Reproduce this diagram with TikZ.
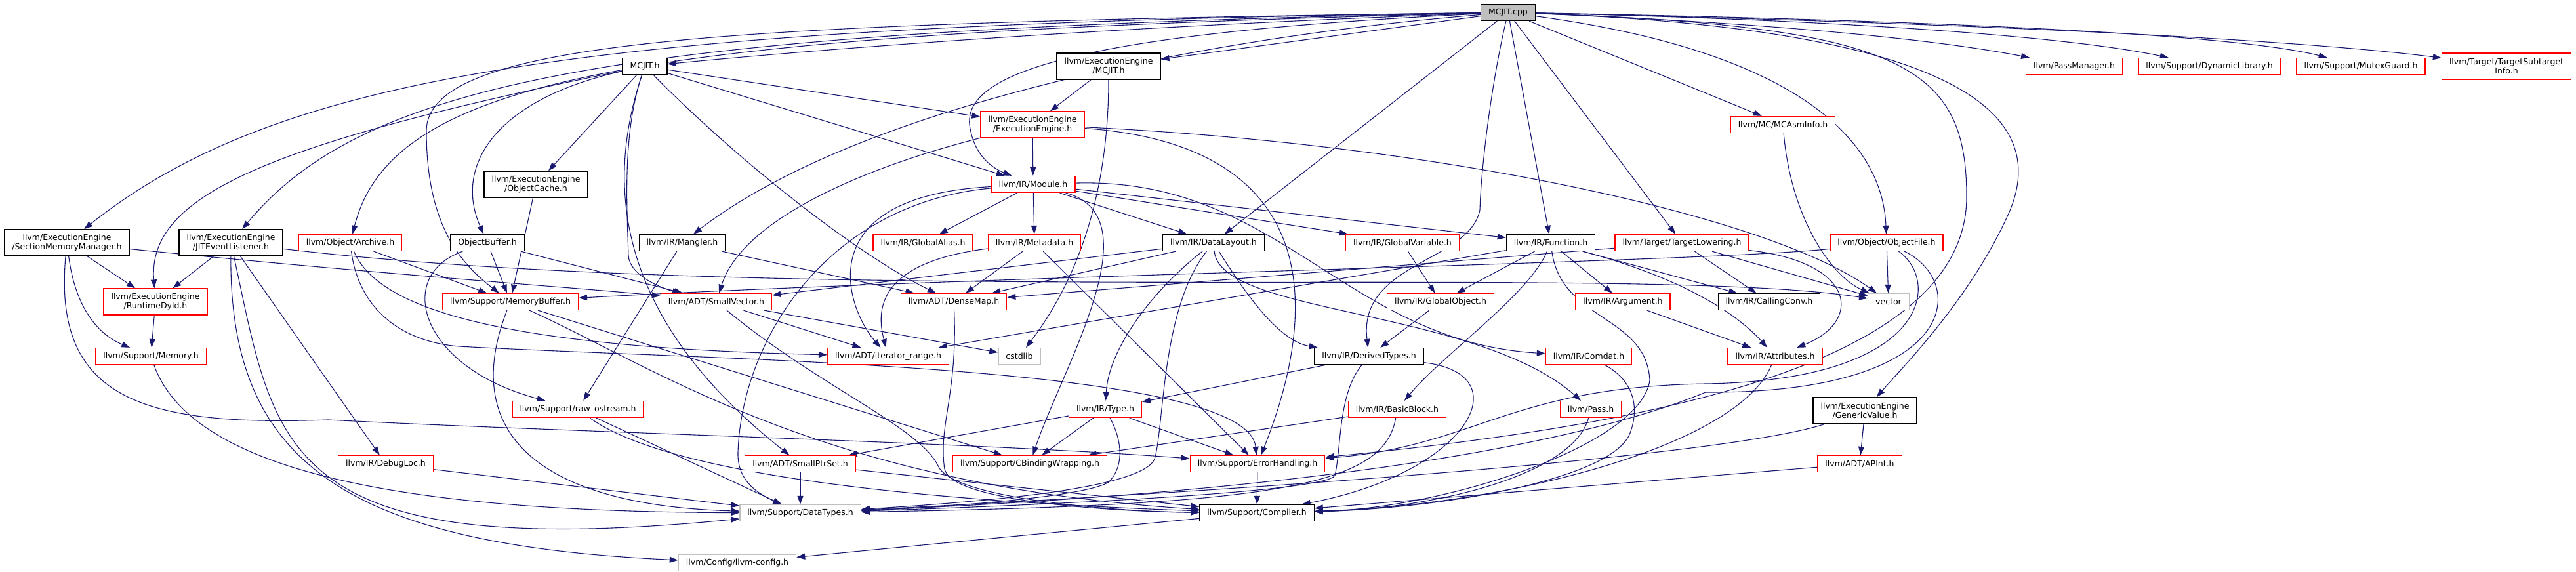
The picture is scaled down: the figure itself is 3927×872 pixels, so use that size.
\documentclass[tikz,border=0pt]{standalone}
\usepackage{fontspec}
\newfontfamily\doxfont{DejaVu Sans}
\usetikzlibrary{arrows.meta}
\definecolor{edgeblue}{HTML}{191970}
\definecolor{boxgray}{HTML}{BFBFBF}
\pgfdeclarelayer{edges}
\pgfsetlayers{edges,main}

\begin{document}
\begin{tikzpicture}[x=1pt, y=-1pt,
  file/.style={draw, fill=white, line width=1.3pt, inner xsep=11.5pt, inner ysep=2pt,
               minimum height=25pt, align=center, font=\doxfont\fontsize{12.5pt}{14pt}\selectfont},
  full/.style={file, draw=black},
  trunc/.style={file, draw=red},
  ext/.style={file, draw=boxgray},
  root/.style={file, draw=black, fill=boxgray},
  two/.style={minimum height=40pt},
  inc/.style={->, draw=edgeblue, line width=1.1pt},
  >={Triangle[length=13pt, width=9pt]}]
  \useasboundingbox (0,0) rectangle (3927,872);

  % top rows
  \node[root] (cpp) at (2299,19) {MCJIT.cpp};
  \node[full] (mcjith) at (983,101) {MCJIT.h};
  \node[full, two] (eemcjit) at (1690,101) {llvm/ExecutionEngine\\/MCJIT.h};
  \node[trunc] (passmgr) at (3162,101) {llvm/PassManager.h};
  \node[trunc] (dynlib) at (3368,101) {llvm/Support/DynamicLibrary.h};
  \node[trunc] (mutex) at (3599,101) {llvm/Support/MutexGuard.h};
  \node[trunc, two] (subtarget) at (3821,101) {llvm/Target/TargetSubtarget\\Info.h};
  \node[trunc, two] (ee) at (1574,190) {llvm/ExecutionEngine\\/ExecutionEngine.h};
  \node[trunc] (mcasm) at (2718,190) {llvm/MC/MCAsmInfo.h};
  \node[full, two] (objcache) at (817,281) {llvm/ExecutionEngine\\/ObjectCache.h};
  \node[trunc] (module) at (1575,281) {llvm/IR/Module.h};

  % middle rows
  \node[full, two] (secmem) at (102,370) {llvm/ExecutionEngine\\/SectionMemoryManager.h};
  \node[full, two] (jitevent) at (352,370) {llvm/ExecutionEngine\\/JITEventListener.h};
  \node[trunc] (archive) at (534,370) {llvm/Object/Archive.h};
  \node[full] (objbuf) at (743,370) {ObjectBuffer.h};
  \node[full] (mangler) at (1040,370) {llvm/IR/Mangler.h};
  \node[trunc] (galias) at (1407,370) {llvm/IR/GlobalAlias.h};
  \node[trunc] (metadata) at (1577,370) {llvm/IR/Metadata.h};
  \node[full] (datalayout) at (1850,370) {llvm/IR/DataLayout.h};
  \node[trunc] (gvar) at (2138,370) {llvm/IR/GlobalVariable.h};
  \node[full] (function) at (2364,370) {llvm/IR/Function.h};
  \node[trunc] (tlowering) at (2564,370) {llvm/Target/TargetLowering.h};
  \node[trunc] (objfile) at (2876,370) {llvm/Object/ObjectFile.h};

  \node[trunc, two] (rtdyld) at (237,460) {llvm/ExecutionEngine\\/RuntimeDyld.h};
  \node[trunc] (membuf) at (778,460) {llvm/Support/MemoryBuffer.h};
  \node[trunc] (smallvec) at (1092,460) {llvm/ADT/SmallVector.h};
  \node[trunc] (densemap) at (1454,460) {llvm/ADT/DenseMap.h};
  \node[trunc] (gobject) at (2196,460) {llvm/IR/GlobalObject.h};
  \node[trunc] (argument) at (2474,460) {llvm/IR/Argument.h};
  \node[full] (callconv) at (2697,460) {llvm/IR/CallingConv.h};
  \node[ext] (vector) at (2879,460) {vector};

  \node[trunc] (memory) at (230,543) {llvm/Support/Memory.h};
  \node[trunc] (itrange) at (1354,543) {llvm/ADT/iterator\_range.h};
  \node[ext] (cstdlib) at (1554,543) {cstdlib};
  \node[full] (derived) at (2087,543) {llvm/IR/DerivedTypes.h};
  \node[trunc] (comdat) at (2422,543) {llvm/IR/Comdat.h};
  \node[trunc] (attributes) at (2706,543) {llvm/IR/Attributes.h};

  % bottom rows
  \node[trunc] (rawos) at (881,624) {llvm/Support/raw\_ostream.h};
  \node[trunc] (type) at (1685,624) {llvm/IR/Type.h};
  \node[trunc] (basicblock) at (2130,624) {llvm/IR/BasicBlock.h};
  \node[trunc] (pass) at (2425,624) {llvm/Pass.h};
  \node[full, two] (genval) at (2843,626) {llvm/ExecutionEngine\\/GenericValue.h};
  \node[trunc] (debugloc) at (588,707) {llvm/IR/DebugLoc.h};
  \node[trunc] (smallptr) at (1220,707) {llvm/ADT/SmallPtrSet.h};
  \node[trunc] (cbinding) at (1570,707) {llvm/Support/CBindingWrapping.h};
  \node[trunc] (errhand) at (1917,707) {llvm/Support/ErrorHandling.h};
  \node[trunc] (apint) at (2835,707) {llvm/ADT/APInt.h};
  \node[ext] (datatypes) at (1220,782) {llvm/Support/DataTypes.h};
  \node[full] (compiler) at (1916,782) {llvm/Support/Compiler.h};
  \node[ext] (config) at (1124,858) {llvm/Config/llvm-config.h};

  \begin{pgfonlayer}{edges}
  % MCJIT.cpp
  \draw[inc] (cpp) .. controls (900,38) and (430,110) .. (secmem);
  \draw[inc] (cpp) .. controls (950,45) and (560,120) .. (jitevent);
  \draw[inc] (cpp) .. controls (1000,52) and (600,110) .. (archive);
  \draw[inc] (cpp) .. controls (1100,35) and (650,60) .. (650,200) .. controls (650,340) and (700,400) .. (membuf);
  \draw[inc] (cpp) .. controls (1700,40) and (1250,75) .. (mcjith);
  \draw[inc] (cpp) -- (eemcjit);
  \draw[inc] (cpp) .. controls (1650,50) and (1470,110) .. (1478,190) .. controls (1484,235) and (1510,255) .. (module);
  \draw[inc] (cpp) .. controls (1800,60) and (1300,170) .. (mangler);
  \draw[inc] (cpp) -- (datalayout);
  \draw[inc] (cpp) .. controls (2275,120) and (2258,250) .. (2256,320) .. controls (2240,400) and (2070,400) .. (derived);
  \draw[inc] (cpp) -- (function);
  \draw[inc] (cpp) -- (tlowering);
  \draw[inc] (cpp) -- (mcasm);
  \draw[inc] (cpp) .. controls (2750,80) and (2870,220) .. (objfile);
  \draw[inc] (cpp) .. controls (3000,45) and (3130,180) .. (3060,330) .. controls (3000,460) and (2900,560) .. (genval);
  \draw[inc] (cpp) .. controls (2900,40) and (2998,100) .. (2998,300) .. controls (2998,560) and (2500,650) .. (errhand);
  \draw[inc] (cpp) .. controls (2700,35) and (2950,60) .. (passmgr);
  \draw[inc] (cpp) .. controls (2800,30) and (3150,55) .. (dynlib);
  \draw[inc] (cpp) .. controls (2900,30) and (3400,50) .. (mutex);
  \draw[inc] (cpp) .. controls (3000,35) and (3500,60) .. (subtarget);
  % MCJIT.h
  \draw[inc] (mcjith) .. controls (400,220) and (225,300) .. (rtdyld);
  \draw[inc] (mcjith) .. controls (760,150) and (690,250) .. (objbuf);
  \draw[inc] (mcjith) -- (objcache);
  \draw[inc] (mcjith) .. controls (950,200) and (955,300) .. (958,390) .. controls (960,420) and (1010,440) .. (smallvec);
  \draw[inc] (mcjith) .. controls (930,260) and (920,470) .. (smallptr);
  \draw[inc] (mcjith) .. controls (1130,250) and (1310,390) .. (densemap);
  \draw[inc] (mcjith) -- (ee);
  \draw[inc] (mcjith) -- (module);
  \draw[inc] (eemcjit) -- (ee);
  \draw[inc] (eemcjit) .. controls (1690,300) and (1640,430) .. (cstdlib);
  % ExecutionEngine.h
  \draw[inc] (ee) -- (module);
  \draw[inc] (ee) .. controls (1300,260) and (1130,340) .. (smallvec);
  \draw[inc] (ee) .. controls (2200,220) and (2700,330) .. (vector);
  \draw[inc] (ee) .. controls (2000,220) and (2020,450) .. (errhand);
  % Module.h
  \draw[inc] (module) -- (galias);
  \draw[inc] (module) -- (metadata);
  \draw[inc] (module) -- (datalayout);
  \draw[inc] (module) -- (gvar);
  \draw[inc] (module) -- (function);
  \draw[inc] (module) .. controls (1950,270) and (2050,520) .. (comdat);
  \draw[inc] (module) .. controls (1230,300) and (1290,470) .. (itrange);
  \draw[inc] (module) .. controls (1760,330) and (1620,560) .. (cbinding);
  \draw[inc] (module) .. controls (1260,310) and (1130,520) .. (1125,690) .. controls (1124,730) and (1150,750) .. (datatypes);
  \draw[inc] (objcache) -- (membuf);
  % SectionMemoryManager.h, JITEventListener.h
  \draw[inc] (secmem) -- (rtdyld);
  \draw[inc] (secmem) .. controls (115,470) and (150,510) .. (memory);
  \draw[inc] (secmem) .. controls (600,420) and (900,440) .. (smallvec);
  \draw[inc] (secmem) .. controls (80,610) and (220,650) .. (500,640) .. controls (900,660) and (1500,675) .. (errhand);
  \draw[inc] (jitevent) -- (rtdyld);
  \draw[inc] (jitevent) -- (debugloc);
  \draw[inc] (jitevent) .. controls (350,700) and (520,830) .. (config);
  \draw[inc] (jitevent) .. controls (420,680) and (420,860) .. (datatypes);
  \draw[inc] (jitevent) .. controls (1200,470) and (2500,400) .. (vector);
  % Archive.h, ObjectBuffer.h, Mangler.h
  \draw[inc] (archive) -- (membuf);
  \draw[inc] (archive) .. controls (580,480) and (800,530) .. (itrange);
  \draw[inc] (archive) .. controls (545,460) and (600,520) .. (700,528) .. controls (1100,550) and (1900,555) .. (errhand);
  \draw[inc] (objbuf) -- (membuf);
  \draw[inc] (objbuf) -- (smallvec);
  \draw[inc] (objbuf) .. controls (600,420) and (640,560) .. (rawos);
  \draw[inc] (mangler) -- (rawos);
  \draw[inc] (mangler) -- (densemap);
  % Metadata.h, DataLayout.h
  \draw[inc] (metadata) .. controls (1340,400) and (1335,470) .. (itrange);
  \draw[inc] (metadata) -- (densemap);
  \draw[inc] (metadata) -- (errhand);
  \draw[inc] (datalayout) -- (smallvec);
  \draw[inc] (datalayout) -- (densemap);
  \draw[inc] (datalayout) .. controls (1760,440) and (1690,530) .. (type);
  \draw[inc] (datalayout) .. controls (1770,470) and (1775,650) .. (1760,700) .. controls (1740,745) and (1500,765) .. (datatypes);
  \draw[inc] (datalayout) .. controls (1860,480) and (2250,470) .. (pass);
  \draw[inc] (datalayout) .. controls (1900,450) and (1950,520) .. (derived);
  % GlobalVariable.h, Function.h
  \draw[inc] (gvar) -- (gobject);
  \draw[inc] (function) -- (gobject);
  \draw[inc] (function) -- (argument);
  \draw[inc] (function) .. controls (2330,450) and (2200,540) .. (basicblock);
  \draw[inc] (function) -- (callconv);
  \draw[inc] (function) .. controls (2550,420) and (2640,470) .. (attributes);
  \draw[inc] (function) -- (itrange);
  \draw[inc] (function) .. controls (2380,490) and (2510,480) .. (2515,580) .. controls (2500,680) and (2200,775) .. (compiler);
  % TargetLowering.h, MCAsmInfo.h, ObjectFile.h
  \draw[inc] (tlowering) -- (densemap);
  \draw[inc] (tlowering) -- (callconv);
  \draw[inc] (tlowering) .. controls (2830,400) and (2840,490) .. (attributes);
  \draw[inc] (tlowering) -- (vector);
  \draw[inc] (mcasm) .. controls (2730,330) and (2790,420) .. (vector);
  \draw[inc] (objfile) -- (vector);
  \draw[inc] (objfile) .. controls (2600,400) and (1500,420) .. (membuf);
  \draw[inc] (objfile) .. controls (2960,430) and (2940,580) .. (2600,585) .. controls (2300,590) and (2250,680) .. (errhand);
  \draw[inc] (objfile) .. controls (3000,430) and (2990,600) .. (2600,598) .. controls (2450,660) and (2100,745) .. (datatypes);
  % GenericValue.h and the lower headers
  \draw[inc] (genval) -- (apint);
  \draw[inc] (genval) .. controls (2650,690) and (2050,740) .. (datatypes);
  \draw[inc] (apint) -- (compiler);
  \draw[inc] (attributes) .. controls (2650,680) and (2300,770) .. (compiler);
  \draw[inc] (argument) -- (attributes);
  \draw[inc] (gobject) -- (derived);
  \draw[inc] (derived) -- (type);
  \draw[inc] (derived) .. controls (2320,570) and (2240,720) .. (compiler);
  \draw[inc] (derived) .. controls (2040,600) and (2045,680) .. (2035,725) .. controls (2020,750) and (1600,770) .. (datatypes);
  \draw[inc] (comdat) .. controls (2490,580) and (2500,620) .. (2485,660) .. controls (2460,730) and (2200,775) .. (compiler);
  \draw[inc] (basicblock) -- (cbinding);
  \draw[inc] (basicblock) .. controls (2110,740) and (1950,770) .. (datatypes);
  \draw[inc] (pass) .. controls (2400,720) and (2200,775) .. (compiler);
  \draw[inc] (type) -- (smallptr);
  \draw[inc] (type) -- (cbinding);
  \draw[inc] (type) -- (errhand);
  \draw[inc] (type) .. controls (1710,670) and (1715,710) .. (1690,735) .. controls (1650,760) and (1400,775) .. (datatypes);
  \draw[inc] (smallptr) -- (datatypes);
  \draw[inc] (smallptr) -- (compiler);
  \draw[inc] (membuf) .. controls (700,660) and (820,770) .. (datatypes);
  \draw[inc] (membuf) .. controls (1000,560) and (1250,740) .. (compiler);
  \draw[inc] (membuf) -- (cbinding);
  \draw[inc] (smallvec) -- (itrange);
  \draw[inc] (smallvec) -- (cstdlib);
  \draw[inc] (smallvec) .. controls (1250,590) and (1400,650) .. (1430,710) .. controls (1450,760) and (1700,780) .. (compiler);
  \draw[inc] (densemap) .. controls (1460,600) and (1430,650) .. (1440,715) .. controls (1450,765) and (1700,780) .. (compiler);
  \draw[inc] (rawos) -- (datatypes);
  \draw[inc] (rawos) .. controls (1000,710) and (1300,760) .. (compiler);
  \draw[inc] (errhand) -- (compiler);
  \draw[inc] (compiler) -- (config);
  \draw[inc] (memory) .. controls (300,740) and (700,780) .. (datatypes);
  \draw[inc] (debugloc) -- (datatypes);
  \draw[inc] (rtdyld) -- (memory);
  \end{pgfonlayer}
\end{tikzpicture}
\end{document}
